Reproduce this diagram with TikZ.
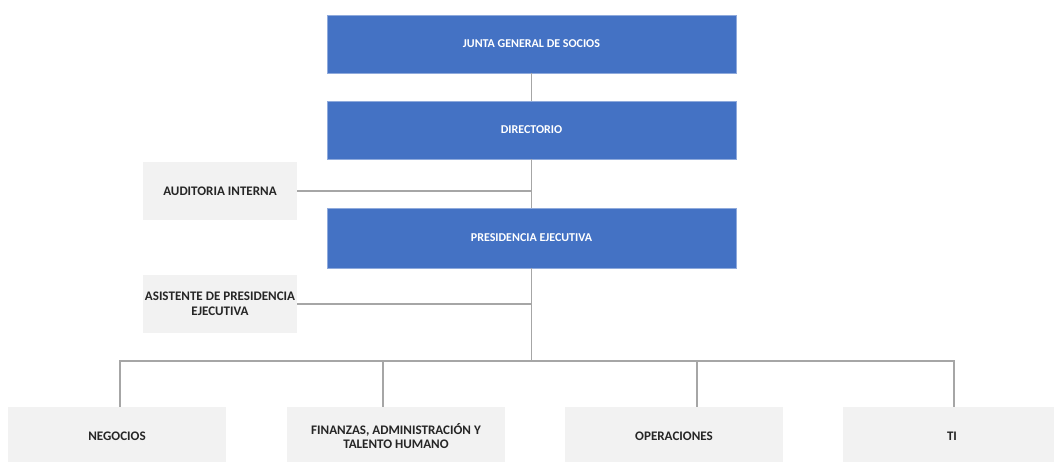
\documentclass[tikz,border=0pt]{standalone}
\usepackage{fontspec}
\setmainfont{Carlito}
\definecolor{boxblue}{HTML}{4472C4}
\definecolor{boxgray}{HTML}{F2F2F2}
\definecolor{linegray}{HTML}{A6A6A6}
\begin{document}
\begin{tikzpicture}[x=0.75pt,y=-0.75pt,
  bluebox/.style={fill=boxblue, draw=boxblue!60!white, line width=0.4pt, text=white, font=\bfseries\fontsize{9}{11}\selectfont, minimum width={409*0.75pt}, minimum height={58*0.75pt}, inner sep=0pt, align=center},
  graybox/.style={fill=boxgray, draw=none, text=black!85, font=\bfseries\fontsize{9.8}{11}\selectfont, minimum width={154*0.75pt}, minimum height={58*0.75pt}, inner sep=0pt, align=center},
  bottombox/.style={graybox, minimum width={218*0.75pt}},
  conn/.style={draw=linegray, line width=0.8pt}]
\useasboundingbox (0,0) rectangle (1054,461);
\clip (0,0) rectangle (1054,461);
\fill[white] (0,0) rectangle (1054,461);
% top chain
\node[bluebox] (junta) at (531.5,44) {JUNTA GENERAL DE SOCIOS};
\node[bluebox] (dir) at (531.5,130) {DIRECTORIO};
\node[bluebox, minimum height={60*0.75pt}] (pres) at (531.5,238) {PRESIDENCIA EJECUTIVA};
% staff
\node[graybox] (aud) at (220,191) {AUDITORIA INTERNA};
\node[graybox] (asis) at (220,304) {ASISTENTE DE PRESIDENCIA\\EJECUTIVA};
% bottom
\node[bottombox] (neg) at (117,436) {NEGOCIOS};
\node[bottombox] (fin) at (396,436) {FINANZAS, ADMINISTRACIÓN Y\\TALENTO HUMANO};
\node[bottombox] (ope) at (674,436) {OPERACIONES};
\node[bottombox] (ti) at (952,436) {TI};
% coordinates
\coordinate (bus) at (531.5,361);
\coordinate (busL) at (120,361);
\coordinate (busR) at (954,361);
\coordinate (finT) at (383,361);
\coordinate (opeT) at (697,361);
% connectors
\draw[conn] (junta.south) -- (dir.north);
\draw[conn] (dir.south) -- (pres.north);
\draw[conn] (pres.south) -- (bus);
\draw[conn] (aud.east) -- (aud.east -| dir.south);
\draw[conn] (asis.east) -- (asis.east -| pres.south);
\draw[conn] (neg.north -| busL) -- (busL) -- (busR) -- (ti.north -| busR);
\draw[conn] (finT) -- (fin.north -| finT);
\draw[conn] (opeT) -- (ope.north -| opeT);
\end{tikzpicture}
\end{document}
